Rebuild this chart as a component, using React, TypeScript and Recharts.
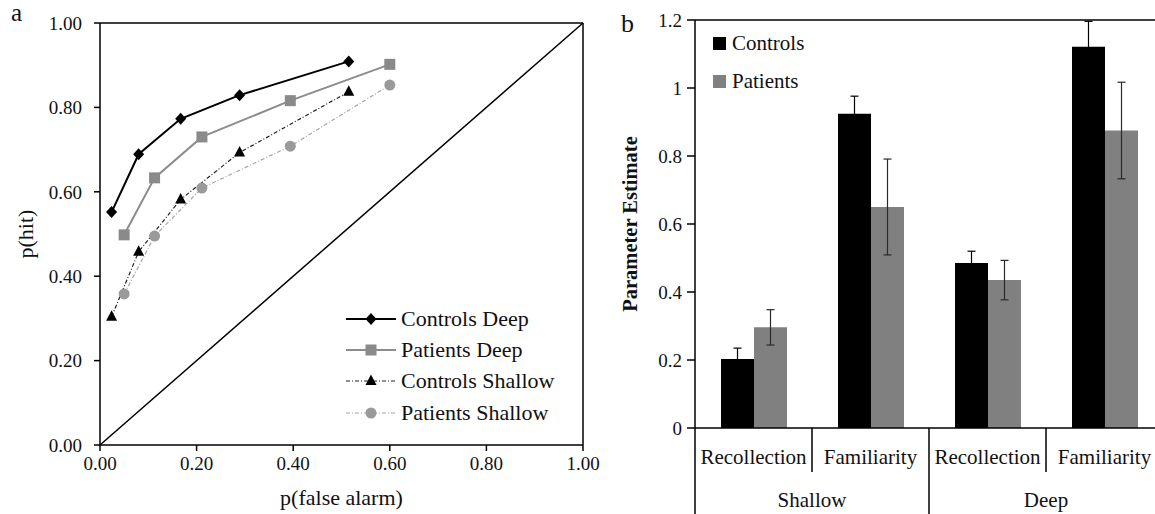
import React from 'react';
import {
  LineChart,
  Line,
  XAxis,
  YAxis,
  ReferenceLine,
  Legend,
  BarChart,
  Bar,
  ErrorBar,
} from 'recharts';

const FONT = '"Liberation Serif", "Times New Roman", serif';

// ---- Panel a: ROC curves ----
const controlsDeepFA = [0.024, 0.08, 0.167, 0.289, 0.515];
const controlsDeepHit = [0.552, 0.689, 0.773, 0.829, 0.909];
const patientsDeepFA = [0.05, 0.113, 0.211, 0.394, 0.6];
const patientsDeepHit = [0.498, 0.633, 0.73, 0.816, 0.902];
const controlsShallowFA = [0.024, 0.08, 0.167, 0.289, 0.515];
const controlsShallowHit = [0.304, 0.458, 0.582, 0.693, 0.837];
const patientsShallowFA = [0.05, 0.113, 0.211, 0.394, 0.6];
const patientsShallowHit = [0.358, 0.495, 0.609, 0.708, 0.853];
const rocTicks = [0, 0.2, 0.4, 0.6, 0.8, 1];

// ---- Panel b: parameter estimates ----
const depthGroups = ['Shallow', 'Deep'];
const processes = ['Recollection', 'Familiarity'];
const controlsEstimate = [0.203, 0.924, 0.485, 1.121];
const controlsError = [0.032, 0.052, 0.035, 0.075];
const patientsEstimate = [0.296, 0.65, 0.435, 0.875];
const patientsError = [0.052, 0.141, 0.058, 0.142];
const estimateTicks = [0, 0.2, 0.4, 0.6, 0.8, 1, 1.2];

type MarkerKind = 'diamond' | 'square' | 'triangle' | 'circle';

const rocSeries = [
  { name: 'Controls Deep', fa: controlsDeepFA, hit: controlsDeepHit, stroke: '#000000', strokeWidth: 2, dash: undefined as string | undefined, marker: 'diamond' as MarkerKind, fill: '#000000' },
  { name: 'Patients Deep', fa: patientsDeepFA, hit: patientsDeepHit, stroke: '#8c8c8c', strokeWidth: 2, dash: undefined as string | undefined, marker: 'square' as MarkerKind, fill: '#8a8a8a' },
  { name: 'Controls Shallow', fa: controlsShallowFA, hit: controlsShallowHit, stroke: '#222222', strokeWidth: 1.2, dash: '4 2 1 2', marker: 'triangle' as MarkerKind, fill: '#000000' },
  { name: 'Patients Shallow', fa: patientsShallowFA, hit: patientsShallowHit, stroke: '#a6a6a6', strokeWidth: 1.2, dash: '4 2 1 2', marker: 'circle' as MarkerKind, fill: '#9a9a9a' },
];

const barSeries = [
  { name: 'Controls', key: 'controls', errKey: 'controlsErr', fill: '#000000', errStroke: '#000000' },
  { name: 'Patients', key: 'patients', errKey: 'patientsErr', fill: '#808080', errStroke: '#2a2a2a' },
];

const barData = controlsEstimate.map((c, i) => ({
  pos: i + 0.5,
  controls: c,
  controlsErr: controlsError[i],
  patients: patientsEstimate[i],
  patientsErr: patientsError[i],
}));

const nCats = depthGroups.length * processes.length;
const catTicks: number[] = [];
for (let i = 0; i <= nCats; i++) {
  catTicks.push(i);
  if (i < nCats) catTicks.push(i + 0.5);
}

function Marker({ kind, cx, cy, fill }: { kind: MarkerKind; cx: number; cy: number; fill: string }) {
  if (cx == null || cy == null) return null;
  switch (kind) {
    case 'diamond':
      return <path d={`M${cx},${cy - 6}L${cx + 5.5},${cy}L${cx},${cy + 6}L${cx - 5.5},${cy}Z`} fill={fill} />;
    case 'square':
      return <rect x={cx - 5.5} y={cy - 5.5} width={11} height={11} fill={fill} />;
    case 'triangle':
      return <path d={`M${cx},${cy - 6.5}L${cx + 5.5},${cy + 4}L${cx - 5.5},${cy + 4}Z`} fill={fill} />;
    default:
      return <circle cx={cx} cy={cy} r={5.5} fill={fill} />;
  }
}

function RocLegend() {
  return (
    <div style={{ fontFamily: FONT, fontSize: 22, color: '#111' }}>
      {rocSeries.map((s) => (
        <div key={s.name} style={{ display: 'flex', alignItems: 'center', height: 31.3 }}>
          <svg width={50} height={20} style={{ display: 'block' }}>
            <line x1={0} x2={50} y1={10} y2={10} stroke={s.stroke} strokeWidth={s.strokeWidth} strokeDasharray={s.dash} />
            <Marker kind={s.marker} cx={25} cy={10} fill={s.fill} />
          </svg>
          <span style={{ marginLeft: 5, lineHeight: 1, whiteSpace: 'nowrap' }}>{s.name}</span>
        </div>
      ))}
    </div>
  );
}

function BarLegend() {
  return (
    <div style={{ fontFamily: FONT, fontSize: 21, color: '#111' }}>
      {barSeries.map((s) => (
        <div key={s.name} style={{ display: 'flex', alignItems: 'center', height: 38 }}>
          <span style={{ width: 13, height: 13, background: s.fill, display: 'inline-block' }} />
          <span style={{ marginLeft: 6, lineHeight: 1, whiteSpace: 'nowrap' }}>{s.name}</span>
        </div>
      ))}
    </div>
  );
}

function GroupedTick(props: any) {
  const { x, y, payload } = props;
  const v = payload.value as number;
  const n = processes.length;
  if (v % 1 !== 0) {
    const idx = Math.floor(v);
    return (
      <text x={x} y={y + 29} dy="0.35em" textAnchor="middle" fontFamily={FONT} fontSize={21} fill="#111">
        {processes[idx % n]}
      </text>
    );
  }
  if (v % n === 0) {
    return <line x1={x} x2={x} y1={y} y2={y + 90} stroke="#000" strokeWidth={1.5} />;
  }
  const g = Math.floor(v / n);
  return (
    <g>
      <line x1={x} x2={x} y1={y} y2={y + 44} stroke="#000" strokeWidth={1.5} />
      <text x={x} y={y + 72} dy="0.35em" textAnchor="middle" fontFamily={FONT} fontSize={21} fill="#111">
        {depthGroups[g]}
      </text>
    </g>
  );
}

const tickStyle = { fontFamily: FONT, fontSize: 19, fill: '#111' };

export default function App() {
  return (
    <div
      style={{
        position: 'absolute',
        left: 0,
        top: 0,
        width: 1155,
        height: 514,
        overflow: 'hidden',
        background: '#fff',
        fontFamily: FONT,
      }}
    >
      <div style={{ position: 'absolute', left: 0, top: 0 }}>
        <LineChart width={600} height={514} margin={{ top: 23, right: 17, left: 0, bottom: 9 }}>
          <XAxis
            type="number"
            dataKey="x"
            domain={[0, 1]}
            ticks={rocTicks}
            interval={0}
            tickFormatter={(v: number) => v.toFixed(2)}
            tick={tickStyle}
            tickSize={6}
            tickMargin={6}
            stroke="#000"
            strokeWidth={1.5}
            height={60}
            label={{ value: 'p(false alarm)', position: 'insideBottom', offset: 0, fontFamily: FONT, fontSize: 22, fill: '#111' }}
          />
          <YAxis
            type="number"
            domain={[0, 1]}
            ticks={rocTicks}
            interval={0}
            tickFormatter={(v: number) => v.toFixed(2)}
            tick={tickStyle}
            tickSize={6}
            tickMargin={12}
            stroke="#000"
            strokeWidth={1.5}
            width={100}
            label={{ value: 'p(hit)', angle: -90, position: 'insideLeft', offset: 25, fontFamily: FONT, fontSize: 22, fill: '#111', style: { textAnchor: 'middle' } }}
          />
          <ReferenceLine y={1} stroke="#000" strokeWidth={1.5} />
          <ReferenceLine x={1} stroke="#000" strokeWidth={1.5} />
          <ReferenceLine segment={[{ x: 0, y: 0 }, { x: 1, y: 1 }]} stroke="#000" strokeWidth={1.5} />
          {rocSeries.map((s) => (
            <Line
              key={s.name}
              name={s.name}
              data={s.fa.map((x, i) => ({ x, y: s.hit[i] }))}
              dataKey="y"
              type="linear"
              stroke={s.stroke}
              strokeWidth={s.strokeWidth}
              strokeDasharray={s.dash}
              isAnimationActive={false}
              activeDot={false}
              dot={(p: any) => <Marker key={`${s.name}-${p.index}`} kind={s.marker} cx={p.cx} cy={p.cy} fill={s.fill} />}
            />
          ))}
          <Legend
            layout="horizontal"
            verticalAlign="middle"
            align="center"
            content={() => <RocLegend />}
            wrapperStyle={{ position: 'absolute', left: 346, top: 303, width: 'auto', height: 'auto' }}
          />
        </LineChart>
      </div>

      <div style={{ position: 'absolute', left: 600, top: 0 }}>
        <BarChart width={600} height={514} data={barData} margin={{ top: 20, right: 37, left: 0, bottom: 0 }} barGap={0}>
          <XAxis
            type="number"
            dataKey="pos"
            domain={[0, nCats]}
            ticks={catTicks}
            interval={0}
            tickLine={false}
            tickSize={0}
            tickMargin={0}
            stroke="#000"
            strokeWidth={1.5}
            height={86}
            tick={<GroupedTick />}
          />
          <YAxis
            type="number"
            domain={[0, 1.2]}
            ticks={estimateTicks}
            interval={0}
            tick={tickStyle}
            tickSize={8}
            tickMargin={5}
            stroke="#000"
            strokeWidth={1.5}
            width={95}
            label={{ value: 'Parameter Estimate', angle: -90, position: 'insideLeft', offset: 30, fontFamily: FONT, fontSize: 20.5, fontWeight: 'bold', fill: '#111', style: { textAnchor: 'middle' } }}
          />
          <ReferenceLine y={1.2} stroke="#000" strokeWidth={1.5} />
          {barSeries.map((s) => (
            <Bar key={s.key} dataKey={s.key} name={s.name} fill={s.fill} barSize={33} isAnimationActive={false}>
              <ErrorBar dataKey={s.errKey} direction="y" width={4} stroke={s.errStroke} strokeWidth={1.2} />
            </Bar>
          ))}
          <Legend
            layout="horizontal"
            verticalAlign="middle"
            align="center"
            content={() => <BarLegend />}
            wrapperStyle={{ position: 'absolute', left: 113, top: 24, width: 'auto', height: 'auto' }}
          />
        </BarChart>
      </div>

      <div style={{ position: 'absolute', left: 11, top: 0, fontSize: 25, lineHeight: 1, color: '#111' }}>a</div>
      <div style={{ position: 'absolute', left: 621, top: 11, fontSize: 26, lineHeight: 1, color: '#111' }}>b</div>
    </div>
  );
}
